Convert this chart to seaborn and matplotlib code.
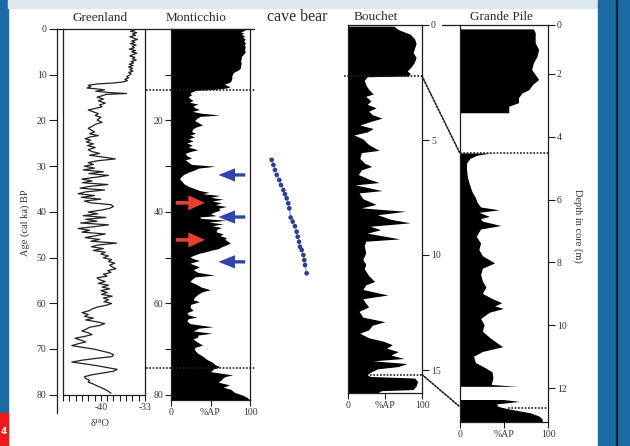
import numpy as np
import pandas as pd
import matplotlib
matplotlib.use("Agg")
import matplotlib.pyplot as plt
from matplotlib.patches import Rectangle, ConnectionPatch
from matplotlib.ticker import FixedLocator, FuncFormatter
import seaborn as sns

# ---- Greenland d18O (age ka BP, permil) ----
greenland_age = [0.2, 0.5, 0.8, 1.1, 1.4, 1.7, 2.0, 2.3, 2.6, 2.9, 3.2, 3.5, 3.8, 4.1, 4.4, 4.7,
                 5.0, 5.3, 5.6, 5.9, 6.2, 6.5, 6.8, 7.1, 7.4, 7.7, 8.0, 8.3, 8.6, 8.9, 9.2, 9.5,
                 9.8, 10.1, 10.4, 10.7, 11.0, 11.3, 11.6, 11.8, 12.0, 12.3, 12.6, 12.9, 13.1, 13.3,
                 13.6, 13.9, 14.1, 14.3, 14.6, 14.9, 15.3, 15.7, 16.2, 16.6, 17.0, 17.4, 17.7, 18.1,
                 18.5, 18.9, 19.3, 19.9, 20.4, 20.8, 21.3, 21.7, 22.1, 22.5, 22.9, 23.3, 23.6, 24.0,
                 24.3, 24.7, 25.1, 25.5, 25.9, 26.4, 26.8, 27.2, 27.6, 28.0, 28.4, 28.8, 29.2, 29.6,
                 30.0, 30.4, 30.8, 31.2, 31.6, 32.0, 32.4, 32.8, 33.2, 33.6, 34.0, 34.4, 34.8, 35.2,
                 35.6, 36.0, 36.4, 36.8, 37.2, 37.6, 38.0, 38.4, 38.8, 39.2, 39.6, 40.0, 40.4, 40.8,
                 41.2, 41.6, 42.0, 42.4, 42.8, 43.2, 43.6, 44.0, 44.4, 44.8, 45.2, 45.6, 46.0, 46.4,
                 46.8, 47.2, 47.6, 48.0, 48.4, 48.8, 49.2, 49.6, 50.0, 50.4, 50.8, 51.2, 51.6, 52.0,
                 52.4, 52.8, 53.2, 53.6, 54.0, 54.4, 54.8, 55.2, 55.6, 56.0, 56.4, 56.8, 57.2, 57.6,
                 58.0, 58.4, 58.8, 59.2, 59.6, 60.0, 60.4, 60.8, 61.2, 61.6, 62.0, 62.4, 62.8, 63.2,
                 63.6, 64.0, 64.4, 64.8, 65.2, 65.6, 66.0, 66.4, 66.8, 67.2, 67.6, 68.0, 68.4, 68.8,
                 69.2, 69.6, 70.0, 70.4, 70.8, 71.2, 71.6, 72.0, 72.4, 72.8, 73.2, 73.6, 74.0, 74.4,
                 74.8, 75.2, 75.6, 76.0, 76.4, 76.8, 77.2, 77.6, 78.0, 78.4, 78.8, 79.2, 79.6]
greenland_d18o = [-34.6, -35.3, -34.3, -35.0, -34.5, -35.4, -34.8, -34.2, -35.1, -34.6, -35.3, -34.4,
                  -35.0, -34.7, -35.5, -34.5, -35.1, -34.3, -34.9, -35.4, -34.6, -35.0, -34.4, -35.2,
                  -34.8, -35.5, -34.9, -35.6, -35.0, -35.4, -34.9, -35.6, -35.2, -35.5, -35.9, -35.6,
                  -36.2, -35.8, -36.6, -38.0, -40.5, -42.0, -41.6, -42.2, -40.6, -39.4, -40.8, -38.6,
                  -35.9, -39.2, -39.8, -40.6, -39.6, -40.4, -39.3, -40.2, -39.8, -41.0, -42.0, -41.2,
                  -40.4, -40.9, -40.0, -40.6, -39.8, -40.8, -41.4, -42.0, -41.5, -41.0, -41.8, -40.4,
                  -41.7, -42.5, -41.6, -42.3, -41.2, -42.1, -40.9, -42.0, -41.4, -40.2, -41.8, -39.6,
                  -37.7, -40.5, -42.0, -41.2, -42.6, -41.0, -42.8, -39.6, -41.9, -38.8, -40.8, -43.0,
                  -41.4, -42.9, -38.9, -41.8, -43.3, -39.4, -42.4, -43.6, -41.0, -43.1, -40.0, -42.6,
                  -41.6, -38.4, -38.0, -38.6, -40.0, -42.0, -40.5, -42.8, -39.2, -42.4, -40.6, -43.2,
                  -38.8, -41.0, -43.6, -41.8, -43.0, -39.3, -40.9, -42.5, -40.2, -41.6, -37.5, -40.4,
                  -41.5, -39.6, -41.2, -39.3, -40.0, -38.8, -39.6, -38.3, -38.8, -37.8, -38.6, -38.2,
                  -37.6, -38.9, -38.4, -39.6, -39.0, -40.6, -40.2, -39.3, -40.4, -38.8, -39.8, -38.6,
                  -40.0, -39.0, -39.9, -38.2, -39.6, -38.8, -39.5, -38.3, -39.2, -40.6, -41.4, -41.9,
                  -43.0, -42.0, -42.6, -41.2, -42.4, -40.6, -39.4, -40.2, -41.8, -42.3, -43.0, -42.0,
                  -41.4, -42.6, -44.1, -43.2, -42.4, -43.6, -44.6, -42.8, -41.0, -39.8, -38.6, -38.0,
                  -38.2, -40.8, -43.0, -44.6, -42.5, -40.6, -39.0, -37.4, -38.0, -39.8, -41.5, -42.6,
                  -42.4, -41.8, -42.0, -41.2, -40.6, -39.9, -39.3, -38.8, -38.4]

# ---- Monticchio arboreal pollen (age ka BP, %AP) ----
mont_age = [0.0, 0.3, 0.6, 0.9, 1.2, 1.5, 1.8, 2.2, 2.6, 3.0, 3.5, 4.0, 4.5, 5.0, 5.5, 6.0, 6.5,
            7.0, 7.5, 8.0, 8.5, 9.0, 9.4, 9.8, 10.3, 10.8, 11.3, 11.7, 12.0, 12.3, 12.6, 12.9, 13.2,
            13.4, 13.7, 14.0, 14.4, 14.8, 15.2, 15.6, 16.0, 16.4, 16.8, 17.2, 17.6, 18.0, 18.4, 18.8,
            19.1, 19.5, 20.0, 20.5, 21.0, 21.4, 21.8, 22.4, 22.8, 23.2, 23.6, 24.0, 24.5, 24.9, 25.4,
            25.8, 26.4, 26.8, 27.2, 27.7, 28.2, 28.6, 29.1, 29.6, 30.0, 30.4, 30.8, 31.3, 31.8, 32.4,
            32.8, 33.3, 33.8, 34.4, 34.9, 35.3, 35.7, 36.0, 36.4, 36.8, 37.2, 37.6, 38.0, 38.4, 38.8,
            39.2, 39.6, 40.0, 40.4, 40.8, 41.1, 41.4, 41.8, 42.2, 42.6, 43.0, 43.4, 43.8, 44.3, 44.8,
            45.2, 45.6, 46.0, 46.4, 46.8, 47.2, 47.6, 48.0, 48.4, 48.7, 49.0, 49.4, 49.8, 50.2, 50.6,
            51.2, 51.6, 52.0, 52.6, 53.2, 53.8, 54.2, 54.8, 55.2, 55.8, 56.4, 57.0, 57.4, 58.0, 58.6,
            59.2, 59.6, 60.2, 60.8, 61.5, 62.0, 62.5, 63.0, 63.3, 63.8, 64.4, 65.1, 65.4, 66.0, 66.5,
            66.9, 67.3, 67.8, 68.4, 69.1, 69.6, 70.2, 70.9, 71.5, 72.2, 72.8, 73.4, 73.8, 74.3, 74.9,
            75.3, 75.6, 76.0, 76.6, 77.2, 77.8, 78.3, 78.8, 79.4, 80.0, 80.5, 81.1]
mont_ap = [92, 94, 88, 92, 89, 93, 91, 94, 92, 94, 93, 94, 93, 94, 92, 89, 89, 88, 89, 88, 88, 85,
           80, 78, 77, 77, 76, 74, 68, 70, 75, 70, 55, 32, 27, 24, 26, 22, 24, 28, 23, 34, 28, 30,
           36, 27, 38, 62, 37, 33, 30, 35, 40, 32, 28, 26, 31, 24, 30, 22, 28, 20, 27, 22, 34, 24,
           18, 20, 26, 18, 22, 26, 56, 35, 30, 22, 16, 12, 11, 14, 16, 22, 30, 36, 48, 40, 62, 50,
           66, 52, 64, 56, 70, 60, 62, 55, 50, 57, 36, 38, 70, 48, 66, 52, 64, 58, 57, 66, 62, 70,
           68, 72, 75, 70, 64, 60, 50, 44, 36, 30, 24, 28, 36, 24, 30, 36, 28, 34, 55, 30, 26, 24,
           32, 38, 50, 40, 34, 30, 28, 36, 25, 24, 28, 20, 22, 33, 22, 20, 24, 53, 35, 28, 52, 34,
           34, 28, 33, 40, 30, 30, 34, 40, 45, 52, 56, 62, 54, 50, 66, 78, 68, 64, 60, 74, 66, 76,
           80, 90, 96, 100]

# ---- cave bear ages (relative position across its column, age ka BP) ----
cave_x = [18.5, 20.4, 22.2, 24.1, 27.0, 28.9, 31.5, 33.3, 35.2, 37.0, 38.1, 39.6, 41.9, 44.4,
          46.3, 47.4, 48.9, 50.0, 51.9, 53.7, 54.8, 55.6, 57.4]
cave_age = [28.6, 29.7, 30.8, 31.9, 33.0, 34.1, 35.2, 36.1, 37.0, 38.1, 39.2, 41.2, 42.1, 43.1,
            44.3, 45.4, 46.5, 47.6, 48.3, 49.4, 50.5, 51.6, 53.4]

# ---- Bouchet (depth m, %AP) ----
bouchet_depth = [0.05, 0.2, 0.4, 0.6, 0.8, 1.0, 1.2, 1.4, 1.6, 1.8, 2.0, 2.1, 2.22, 2.25, 2.4, 2.6,
                 2.8, 3.0, 3.1, 3.3, 3.45, 3.6, 3.75, 3.9, 4.05, 4.2, 4.35, 4.5, 4.65, 4.78, 4.95,
                 5.2, 5.45, 5.55, 5.8, 6.0, 6.15, 6.3, 6.5, 6.7, 6.85, 6.95, 7.2, 7.3, 7.55, 7.8,
                 7.95, 8.1, 8.25, 8.45, 8.6, 8.75, 8.9, 9.05, 9.3, 9.4, 9.6, 9.9, 10.2, 10.4, 10.6,
                 10.9, 11.15, 11.3, 11.5, 11.74, 11.9, 12.1, 12.25, 12.45, 12.7, 12.9, 13.05, 13.25,
                 13.4, 13.6, 13.75, 13.9, 14.05, 14.2, 14.35, 14.5, 14.6, 14.72, 14.85, 14.95, 15.1,
                 15.2, 15.28, 15.35, 15.5, 15.7, 15.85, 15.9, 16.0]
bouchet_ap = [62, 68, 84, 90, 92, 90, 88, 92, 90, 86, 80, 84, 82, 26, 22, 24, 28, 34, 24, 31, 26,
              38, 28, 33, 46, 30, 16, 34, 26, 8, 20, 28, 42, 18, 16, 22, 32, 18, 14, 28, 42, 10,
              46, 15, 20, 38, 18, 78, 40, 58, 84, 30, 44, 26, 70, 24, 22, 24, 20, 24, 22, 28, 36,
              24, 20, 54, 20, 24, 28, 15, 20, 50, 33, 28, 16, 28, 48, 60, 52, 68, 58, 76, 34, 80,
              68, 40, 30, 26, 30, 90, 94, 92, 88, 45, 40]

# ---- Grande Pile (depth m, %AP); NaN marks the hiatus ----
gp_depth = [0.58, 0.7, 1.02, 1.24, 1.45, 1.66, 1.87, 2.19, 2.35, 2.51, 2.62, 2.77, 2.93, 3.04, 3.2,
            3.25, 3.26, 4.53, 4.6, 4.7, 4.85, 5.05, 5.3, 5.5, 5.75, 5.95, 6.1, 6.25, 6.34, 6.42,
            6.55, 6.62, 6.7, 6.84, 6.95, 7.18, 7.4, 7.6, 7.8, 8.03, 8.2, 8.4, 8.6, 8.8, 9.0, 9.15,
            9.3, 9.4, 9.48, 9.6, 9.8, 10.0, 10.2, 10.4, 10.7, 10.85, 11.0, 11.2, 11.38, 11.5, 11.7,
            11.9, 11.96, 11.97, 12.38, 12.44, 12.52, 12.6, 12.68, 12.8, 12.9, 13.0, 13.08]
gp_ap = [84, 86, 86, 90, 88, 84, 82, 90, 83, 79, 71, 67, 67, 56, 56, 56, np.nan, 36, 20, 12, 8, 8,
         9, 11, 14, 18, 20, 24, 45, 22, 34, 24, 26, 47, 24, 19, 24, 22, 26, 40, 26, 24, 26, 30,
         26, 36, 48, 40, 50, 34, 24, 28, 26, 34, 49, 26, 16, 18, 30, 37, 38, 36, 66, np.nan, 50,
         68, 42, 44, 56, 80, 90, 94, 94]
gp_depth_ticks = [0.44, 2, 4, 6, 8, 10, 12]
gp_depth_labels = ["0", "2", "4", "6", "8", "10", "12"]

W, H = 630, 446
ink = "#1e1e1e"


def rect(x0, y0, x1, y1):
    return [x0 / W, 1 - y1 / H, (x1 - x0) / W, (y1 - y0) / H]


sns.set_theme(style="ticks")
plt.rcParams["font.family"] = ["Liberation Serif", "DejaVu Serif"]
plt.rcParams["axes.edgecolor"] = ink
plt.rcParams["axes.linewidth"] = 0.9
plt.rcParams["xtick.color"] = ink
plt.rcParams["ytick.color"] = ink
plt.rcParams["xtick.labelcolor"] = "#333333"
plt.rcParams["ytick.labelcolor"] = "#333333"

fig = plt.figure(figsize=(W / 100, H / 100), dpi=100)
fig.patch.set_facecolor("white")

# slide frame
fig.add_artist(Rectangle((0, 0), 8 / W, 1, transform=fig.transFigure, color="#1a6aa3", zorder=-5))
fig.add_artist(Rectangle((8 / W, 1 - 8 / H), 590 / W, 8 / H, transform=fig.transFigure,
                         color="#dde8ef", zorder=-5))
fig.add_artist(Rectangle((598 / W, 0), 32 / W, 1, transform=fig.transFigure, color="#1a6aa3", zorder=-5))
fig.add_artist(Rectangle((615.5 / W, 0), 1.5 / W, 1, transform=fig.transFigure, color="#0b2438", zorder=-4))
fig.add_artist(Rectangle((0, 0), 8 / W, 33 / H, transform=fig.transFigure, color="#f01818", zorder=-4))
fig.text(4 / W, 1 - 431 / H, "4", color="white", fontsize=6.5, ha="center", va="center",
         family="DejaVu Sans", weight="bold")

tick_kw = dict(labelsize=7, width=0.8, pad=1.5)

# ---- age axis ----
ax_age = fig.add_axes(rect(57, 29, 63, 413))
ax_age.set_ylim(84, 0)
ax_age.set_xlim(0, 1)
ax_age.set_xticks([])
ax_age.set_yticks(range(0, 81, 10))
ax_age.tick_params(axis="y", length=6, **tick_kw)
for s in ["right", "bottom"]:
    ax_age.spines[s].set_visible(False)
ax_age.patch.set_alpha(0)
fig.text(25 / W, 1 - 223 / H, "Age (cal ka) BP", rotation=90, ha="center", va="center",
         fontsize=7.5, color="#333333")

# ---- Greenland ----
ax_g = fig.add_axes(rect(63, 29, 145, 395))
gdf = pd.DataFrame({"d18o": greenland_d18o, "age": greenland_age})
sns.lineplot(data=gdf, x="d18o", y="age", orient="y", sort=False, estimator=None,
             color="#222222", lw=0.9, ax=ax_g)
ax_g.set_ylim(80, 0)
ax_g.set_xlim(-46, -33)
ax_g.set_yticks([])
ax_g.xaxis.set_major_locator(FixedLocator(list(range(-46, -32))))
ax_g.xaxis.set_major_formatter(FuncFormatter(lambda v, p: f"{v:.0f}" if round(v) in (-40, -33) else ""))
ax_g.tick_params(axis="x", length=4, **tick_kw)
ax_g.set_xlabel("")
ax_g.set_ylabel("")
fig.text(100 / W, 1 - 423 / H, "δ¹⁸O", ha="center", va="center", fontsize=7.5, color="#333333")

# ---- Monticchio ----
ax_m = fig.add_axes(rect(171, 29, 250, 400))
ax_m.fill_betweenx(mont_age, 0, mont_ap, color="black", lw=0)
ax_m.set_ylim(81.1, 0)
ax_m.set_xlim(0, 100)
ax_m.set_yticks(range(10, 81, 10))
ax_m.set_yticklabels(["" if v % 20 else str(v) for v in range(10, 81, 10)])
ax_m.tick_params(axis="y", length=4, **tick_kw)
ax_m.set_xticks([0, 50, 100])
ax_m.set_xticklabels(["0", "%AP", "100"])
ax_m.tick_params(axis="x", length=4, **tick_kw)
ax_m.plot([-0.32, 1.05], [1, 1], transform=ax_m.transAxes, color=ink, lw=0.9, clip_on=False)
for a in [13.3, 74.1]:
    ax_m.axhline(a, xmin=-0.32, xmax=1.06, color=ink, lw=1.2, ls=(0, (1, 1)), clip_on=False)

blue, red = "#2f45a8", "#e5402f"
for a in [31.9, 41.1, 50.9]:
    ax_m.annotate("", xy=(60, a), xytext=(94, a), annotation_clip=False,
                  arrowprops=dict(arrowstyle="simple,head_length=1.0,head_width=0.8,tail_width=0.2",
                                  mutation_scale=12, color=blue, lw=0, shrinkA=0, shrinkB=0))
for a in [38.0, 46.1]:
    ax_m.annotate("", xy=(43, a), xytext=(6, a), annotation_clip=False,
                  arrowprops=dict(arrowstyle="simple,head_length=1.0,head_width=0.9,tail_width=0.22",
                                  mutation_scale=12, color=red, lw=0, shrinkA=0, shrinkB=0))

# ---- cave bear ----
ax_c = fig.add_axes(rect(255, 29, 345, 395))
ax_c.axis("off")
cdf = pd.DataFrame({"x": cave_x, "age": cave_age})
sns.lineplot(data=cdf, x="x", y="age", orient="y", sort=False, estimator=None,
             color="#3a4fb0", lw=1.0, alpha=0.5, ax=ax_c)
sns.scatterplot(data=cdf, x="x", y="age", color="#26398f", s=11, edgecolor="none", ax=ax_c)
ax_c.set_xlim(0, 100)
ax_c.set_ylim(80, 0)

# ---- Bouchet ----
ax_b = fig.add_axes(rect(348, 25, 422, 393))
ax_b.fill_betweenx(bouchet_depth, 0, bouchet_ap, color="black", lw=0)
ax_b.set_ylim(16, 0)
ax_b.set_xlim(0, 100)
ax_b.yaxis.tick_right()
ax_b.set_yticks([0, 5, 10, 15])
ax_b.tick_params(axis="y", length=5, **tick_kw)
ax_b.set_xticks([0, 50, 100])
ax_b.set_xticklabels(["0", "%AP", "100"])
ax_b.tick_params(axis="x", length=4, **tick_kw)
ax_b.axhline(2.22, xmin=-0.05, xmax=1, color=ink, lw=1.2, ls=(0, (1, 1)), clip_on=False)
ax_b.axhline(15.2, xmin=0.3, xmax=1, color=ink, lw=1.2, ls=(0, (1, 1)), clip_on=False)

# ---- Grande Pile ----
ax_p = fig.add_axes(rect(460, 25, 548, 422))
ax_p.fill_betweenx(gp_depth, 0, gp_ap, color="black", lw=0)
ax_p.set_ylim(13.08, 0.44)
ax_p.set_xlim(0, 100)
ax_p.yaxis.tick_right()
ax_p.set_yticks(gp_depth_ticks)
ax_p.set_yticklabels(gp_depth_labels)
ax_p.tick_params(axis="y", length=5, **tick_kw)
ax_p.set_xticks([0, 50, 100])
ax_p.set_xticklabels(["0", "%AP", "100"])
ax_p.tick_params(axis="x", length=4, **tick_kw)
ax_p.plot([-0.2, 0], [1, 1], transform=ax_p.transAxes, color=ink, lw=0.9, clip_on=False)
ax_p.axhline(4.53, color=ink, lw=1.2, ls=(0, (1, 1)))
ax_p.axhline(12.65, xmin=0.55, xmax=1, color=ink, lw=1.2, ls=(0, (1, 1)))
fig.text(578 / W, 1 - 226 / H, "Depth in core (m)", rotation=270, ha="center", va="center",
         fontsize=7.5, color="#333333")

for d_b, d_p in [(2.22, 4.53), (15.2, 12.6)]:
    fig.add_artist(ConnectionPatch(xyA=(100, d_b), coordsA=ax_b.transData,
                                   xyB=(0, d_p), coordsB=ax_p.transData,
                                   color=ink, lw=1.2, ls=(0, (1, 1))))

# titles
for x, y, txt, size in [(100, 18, "Greenland", 9.5), (196, 18, "Monticchio", 9.5),
                        (297, 17, "cave bear", 11.5), (376, 17, "Bouchet", 9.5),
                        (501, 17, "Grande Pile", 9.5)]:
    fig.text(x / W, 1 - y / H, txt, ha="center", va="center", fontsize=size, color="#2a2a2a")

fig.savefig("out.png", dpi=100)
